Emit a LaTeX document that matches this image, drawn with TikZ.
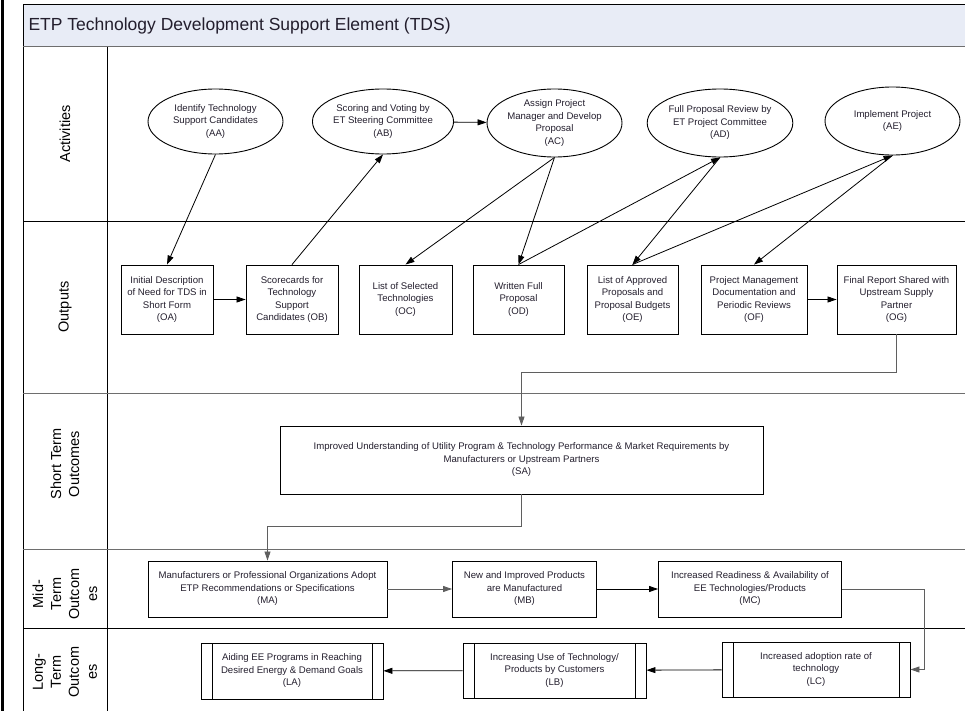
\documentclass[tikz,border=0pt]{standalone}
\usepackage{fontspec}
\setmainfont{Liberation Sans}
\usetikzlibrary{shapes.geometric,arrows.meta}

\definecolor{bandfill}{RGB}{232,236,246}
\definecolor{inkc}{RGB}{35,30,45}
\definecolor{flowgray}{RGB}{95,95,95}
\definecolor{rulegray}{RGB}{110,110,110}

\newcommand{\diagfont}{\fontsize{9.6}{12.5}\selectfont}
\newcommand{\rowfont}{\fontsize{14.5}{18}\selectfont}

\tikzset{
  activity/.style={ellipse, draw, line width=0.9pt, inner sep=0pt, align=center, font=\diagfont, text=inkc},
  output/.style={rectangle, draw, line width=0.9pt, inner sep=0pt, align=center, font=\diagfont, text=inkc},
  process/.style={output, path picture={
      \draw[line width=0.9pt] ([xshift=11pt]path picture bounding box.north west) -- ([xshift=11pt]path picture bounding box.south west)
        ([xshift=-11pt]path picture bounding box.north east) -- ([xshift=-11pt]path picture bounding box.south east);}},
  lane/.style={rotate=90, align=center, font=\rowfont},
  flow/.style={->, line width=0.8pt},
}

\begin{document}
\begin{tikzpicture}[x=1pt, y=-1pt, >={Triangle[length=9pt,width=6pt]}]
\useasboundingbox (0,0) rectangle (965,711);

% Page edge
\draw[line width=3pt] (2,0) -- (2,711);

% Title band
\fill[bandfill] (23,5) rectangle (965,47);
\draw[line width=1pt] (965,5) -- (23,5) -- (23,711);
\draw[line width=1pt, rulegray] (23,47) -- (965,47);
\node[anchor=west, font=\fontsize{17.5}{20}\selectfont, text=inkc] (title) at (25,26) {ETP Technology Development Support Element (TDS)};

% Swim lanes
\draw[line width=0.9pt] (107,47) -- (107,711);
\draw[line width=0.9pt] (23,221) -- (965,221);
\draw[line width=0.9pt, rulegray] (23,393) -- (965,393);
\draw[line width=0.9pt, rulegray] (23,549) -- (965,549);
\draw[line width=0.9pt] (23,628) -- (965,628);

\node[lane] (lact) at (65,134) {Activities};
\node[lane] (lout) at (65,307) {Outputs};
\node[lane] (lshort) at (65,464) {Short Term\\Outcomes};
\node[lane] (lmid) at (65,594) {Mid-\\Term\\Outcom\\es};
\node[lane] (llong) at (65,672) {Long-\\Term\\Outcom\\es};

% Activities
\node[activity, minimum width=135pt, minimum height=65pt] (AA) at (215.5,121.5) {Identify Technology\\Support Candidates\\(AA)};
\node[activity, minimum width=134pt, minimum height=65pt] (AB) at (383,121.5) {Scoring and Voting by\\ET Steering Committee\\(AB)};
\node[activity, minimum width=135pt, minimum height=68pt] (AC) at (554.5,123) {Assign Project\\Manager and Develop\\Proposal\\(AC)};
\node[activity, minimum width=144pt, minimum height=68pt] (AD) at (720,123) {Full Proposal Review by\\ET Project Committee\\(AD)};
\node[activity, minimum width=135pt, minimum height=68pt] (AE) at (892.5,121) {Implement Project\\(AE)};

% Outputs
\node[output, minimum width=92pt, minimum height=69pt] (OA) at (167,299.5) {Initial Description\\of Need for TDS in\\Short Form\\(OA)};
\node[output, minimum width=92pt, minimum height=69pt] (OB) at (292,299.5) {Scorecards for\\Technology\\Support\\Candidates (OB)};
\node[output, minimum width=93pt, minimum height=69pt] (OC) at (405.5,299.5) {List of Selected\\Technologies\\(OC)};
\node[output, minimum width=91pt, minimum height=69pt] (OD) at (518.5,299.5) {Written Full\\Proposal\\(OD)};
\node[output, minimum width=91pt, minimum height=69pt] (OE) at (632.5,299.5) {List of Approved\\Proposals and\\Proposal Budgets\\(OE)};
\node[output, minimum width=106pt, minimum height=69pt] (OF) at (754,299.5) {Project Management\\Documentation and\\Periodic Reviews\\(OF)};
\node[output, minimum width=119pt, minimum height=69pt] (OG) at (896.5,299.5) {Final Report Shared with\\Upstream Supply\\Partner\\(OG)};

% Short term
\node[output, minimum width=483pt, minimum height=68pt] (SA) at (521.5,460) {Improved Understanding of Utility Program \& Technology Performance \& Market Requirements by\\Manufacturers or Upstream Partners\\(SA)};

% Mid term
\node[output, minimum width=239pt, minimum height=56pt] (MA) at (267.5,589) {Manufacturers or Professional Organizations Adopt\\ETP Recommendations or Specifications\\(MA)};
\node[output, minimum width=144pt, minimum height=56pt] (MB) at (524.5,589) {New and Improved Products\\are Manufactured\\(MB)};
\node[output, minimum width=183pt, minimum height=56pt] (MC) at (750,589) {Increased Readiness \& Availability of\\EE Technologies/Products\\(MC)};

% Long term
\node[process, minimum width=182pt, minimum height=56pt] (LA) at (292,671) {Aiding EE Programs in Reaching\\Desired Energy \& Demand Goals\\(LA)};
\node[process, minimum width=183pt, minimum height=55pt] (LB) at (554.5,670.5) {Increasing Use of Technology/\\Products by Customers\\(LB)};
\node[process, minimum width=188pt, minimum height=55pt] (LC) at (816,669.5) {Increased adoption rate of\\technology\\(LC)};

% Activity <-> output links
\draw[flow] (AA.south) -- (OA.north);
\draw[flow] (OB.north) -- (AB.south);
\draw[flow] (AB) -- (AC);
\draw[flow] (AC.south) -- (OC.north);
\draw[flow] (AC.south) -- (OD.north);
\draw[flow] (OD.north) -- (AD.south);
\draw[flow] (AD.south) -- (OE.north);
\draw[flow] (OE.north) -- (AE.south);
\draw[flow] (AE.south) -- (OF.north);
\draw[flow] (OA) -- (OB);
\draw[flow] (OF) -- (OG);

% Outcome chain
\draw[flow, flowgray] (OG.south) -- ++(0,38) -| (SA.north);
\draw[flow, flowgray] (SA.south) -- ++(0,32) -| (MA.north);
\draw[flow, flowgray] (MA) -- (MB);
\draw[flow] (MB) -- (MC);
\draw[flow, flowgray] (MC.east) -- ++(82,0) |- (LC.east);
\draw[flow] (LC) -- (LB);
\draw[flow] (LB) -- (LA);

\end{tikzpicture}
\end{document}
